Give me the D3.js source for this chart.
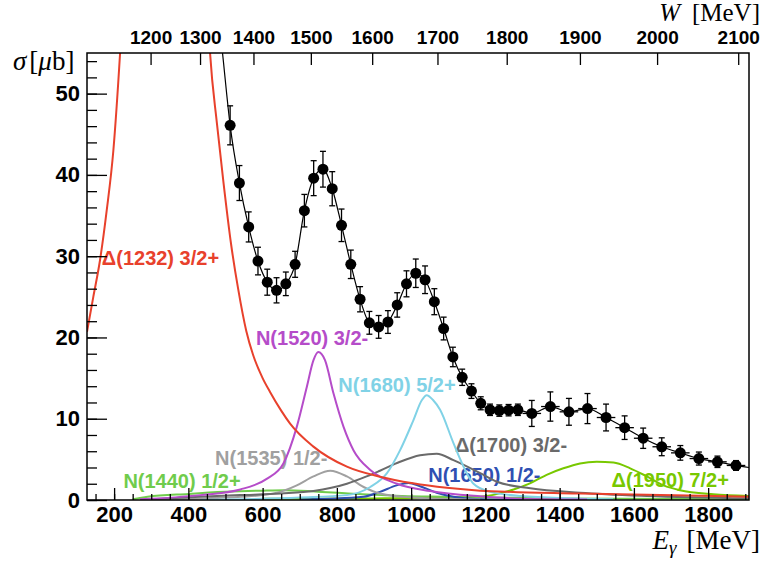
<!DOCTYPE html>
<html>
<head>
<meta charset="utf-8">
<script src="https://cdn.jsdelivr.net/npm/d3@7"></script>
<style>
body { margin: 0; background: #fff; }
svg { display: block; }
</style>
</head>
<body>
<svg></svg>
<script>
// measured cross section (photon energy, sigma, stat error, half bin width)
const dataE = [512.5, 537.5, 562.5, 587.5, 612.5, 637.5, 662.5, 687.5, 712.5, 737.5, 762.5, 787.5, 812.5, 837.5, 862.5, 887.5, 912.5, 937.5, 962.5, 987.5, 1012.5, 1037.5, 1062.5, 1087.5, 1112.5, 1137.5, 1162.5, 1187.5, 1212.5, 1237.5, 1262.5, 1287.5, 1325, 1375, 1425, 1475, 1525, 1575, 1625, 1675, 1725, 1775, 1825, 1875]
const dataS = [46.1, 39.0, 33.6, 29.4, 26.8, 25.8, 26.6, 29.0, 35.6, 39.6, 40.7, 38.3, 33.8, 29.0, 24.7, 21.8, 21.3, 21.9, 24.0, 26.6, 27.9, 27.1, 24.4, 21.1, 17.6, 15.1, 13.4, 11.9, 11.1, 11.0, 11.05, 11.1, 10.65, 11.5, 10.85, 11.25, 10.15, 8.9, 7.6, 6.55, 5.8, 5.1, 4.7, 4.25]
const dataErr = [2.4, 2.15, 1.85, 1.7, 1.6, 1.55, 1.45, 1.6, 2.0, 2.15, 2.2, 2.1, 2.0, 1.75, 1.55, 1.4, 1.4, 1.4, 1.5, 1.6, 1.75, 1.7, 1.6, 1.4, 1.2, 1.0, 0.9, 0.8, 0.7, 0.7, 0.7, 0.7, 1.6, 1.8, 1.65, 1.85, 1.65, 1.45, 1.25, 1.1, 0.9, 0.8, 0.7, 0.6]
const dataBin = [12.5, 12.5, 12.5, 12.5, 12.5, 12.5, 12.5, 12.5, 12.5, 12.5, 12.5, 12.5, 12.5, 12.5, 12.5, 12.5, 12.5, 12.5, 12.5, 12.5, 12.5, 12.5, 12.5, 12.5, 12.5, 12.5, 12.5, 12.5, 12.5, 12.5, 12.5, 12.5, 25, 25, 25, 25, 25, 25, 25, 25, 25, 25, 25, 25]

// total fit: runs in from above the frame, through the points, out to the right edge
const fitHeadE = [478, 492]
const fitHeadS = [61, 55]
const fitTailE = [1910]
const fitTailS = [4.0]

// resonance contributions
const d1232E = [127, 144, 162, 180, 198, 216, 232, 444, 458.6, 477, 494, 515, 534, 556, 574, 600, 620, 650, 674, 736, 827, 916, 1005, 1096, 1186, 1275, 1455, 1635, 1910]
const d1232S = [20.7, 25.0, 29.5, 35.6, 43.0, 54.9, 68, 68, 54.9, 46.3, 39.3, 31.5, 26.0, 20.8, 17.9, 15.0, 13.3, 11.0, 9.4, 6.6, 4.1, 2.86, 2.05, 1.5, 1.15, 0.98, 0.8, 0.65, 0.4]

const n1520E = [270, 432, 540, 611, 656, 692, 719, 737, 750, 768, 791, 818, 845, 890, 962, 1051, 1186, 1275, 1474]
const n1520S = [0.1, 0.6, 1.3, 2.6, 4.5, 9.0, 13.9, 17.2, 18.2, 17.2, 13.1, 9.0, 6.1, 3.7, 2.0, 1.1, 0.45, 0.2, 0.05]

const n1680E = [432, 701, 827, 890, 935, 970, 1006, 1029, 1042, 1059, 1078, 1114, 1150, 1168, 1213, 1294, 1544]
const n1680S = [0.0, 0.3, 0.6, 1.6, 3.3, 6.1, 9.8, 12.3, 12.9, 12.3, 11.1, 7.0, 3.3, 2.0, 1.0, 0.5, 0.1]

const d1700E = [300, 432, 540, 650, 737, 827, 880, 916, 970, 1024, 1069, 1114, 1186, 1231, 1321, 1455, 1635, 1910]
const d1700S = [0.1, 0.4, 0.6, 0.8, 1.1, 2.0, 2.9, 3.6, 4.7, 5.5, 5.7, 4.9, 3.3, 2.25, 1.44, 0.9, 0.5, 0.2]

const n1535E = [300, 500, 600, 647, 692, 737, 782, 827, 872, 916, 1006, 1186]
const n1535S = [0.05, 0.3, 0.6, 1.0, 1.8, 2.9, 3.6, 2.9, 1.6, 0.8, 0.3, 0.05]

const n1650E = [700, 872, 916, 961, 993, 1024, 1069, 1114, 1186, 1300]
const n1650S = [0.05, 0.4, 1.0, 1.8, 2.1, 1.7, 0.9, 0.4, 0.1, 0.0]

const n1440E = [250, 290, 400, 500, 600, 660, 740, 830, 920, 1050, 1190, 1400, 1910]
const n1440S = [0.1, 0.4, 0.75, 1.0, 1.15, 1.2, 1.05, 0.8, 0.6, 0.42, 0.3, 0.2, 0.1]

const d1950E = [600, 900, 1100, 1186, 1276, 1320, 1365, 1410, 1455, 1500, 1545, 1590, 1635, 1680, 1724, 1814, 1910]
const d1950S = [0.15, 0.2, 0.3, 0.4, 1.3, 2.05, 3.1, 3.9, 4.5, 4.7, 4.6, 3.9, 2.9, 1.8, 1.2, 0.7, 0.5]

const resNames = ["\u0394(1232) 3/2+", "N(1520) 3/2-", "N(1680) 5/2+", "\u0394(1700) 3/2-", "N(1535) 1/2-", "N(1650) 1/2-", "N(1440) 1/2+", "\u0394(1950) 7/2+"]

// tick labels
const eTicks = [200, 400, 600, 800, 1000, 1200, 1400, 1600, 1800]
const wTicks = [1200, 1300, 1400, 1500, 1600, 1700, 1800, 1900, 2000, 2100]
const sTicks = [0, 10, 20, 30, 40, 50]

const w = 768
const h = 570
const padL = 87, padR = 749, padT = 53, padB = 500
const mp = 938.27
const eDomain = [127, 1910]

let svg = d3.select('svg').attr("width", w).attr("height", h)

let xScale = d3.scaleLinear().domain(eDomain).range([padL, padR])
let yScale = d3.scaleLinear().domain([0, 55]).range([padB, padT])
// W^2 = mp^2 + 2 mp E, so E is linear in W^2
let wScale = d3.scalePow().exponent(2)
  .domain(eDomain.map(e => Math.sqrt(mp * mp + 2 * mp * e)))
  .range([padL, padR])

let curves = [
  {name: resNames[0], E: d1232E, S: d1232S, color: "#e8412c", lx: 167, ly: 28.9},
  {name: resNames[1], E: n1520E, S: n1520S, color: "#b54cc9", lx: 582, ly: 19.07},
  {name: resNames[2], E: n1680E, S: n1680S, color: "#80d2e6", lx: 804, ly: 13.33},
  {name: resNames[3], E: d1700E, S: d1700S, color: "#6a6a6a", lx: 1118, ly: 5.94},
  {name: resNames[4], E: n1535E, S: n1535S, color: "#a0a0a0", lx: 472, ly: 4.31},
  {name: resNames[5], E: n1650E, S: n1650S, color: "#2f4fb2", lx: 1046, ly: 2.25},
  {name: resNames[6], E: n1440E, S: n1440S, color: "#70cc4c", lx: 225, ly: 1.44},
  {name: resNames[7], E: d1950E, S: d1950S, color: "#78c800", lx: 1540, ly: 1.64}
]

svg.append("defs").append("clipPath").attr("id", "plot")
  .append("rect")
  .attr("x", padL).attr("y", padT)
  .attr("width", padR - padL).attr("height", padB - padT)

let line = d3.line()
  .x(d => xScale(d[0]))
  .y(d => yScale(d[1]))
  .curve(d3.curveMonotoneX)

let drawLabels = () => {
  svg.append("g").selectAll("text")
    .data(curves)
    .enter()
    .append("text")
    .attr("x", d => xScale(d.lx))
    .attr("y", d => yScale(d.ly))
    .attr("fill", d => d.color)
    .style("font-family", "'Liberation Sans', Arial, sans-serif")
    .style("font-weight", "bold")
    .style("font-size", "20px")
    .text(d => d.name)
}

let drawCurves = () => {
  let g = svg.append("g").attr("clip-path", "url(#plot)")
  g.selectAll("path")
    .data(curves.slice().reverse())
    .enter()
    .append("path")
    .attr("d", d => line(d.E.map((e, i) => [e, d.S[i]])))
    .attr("fill", "none")
    .attr("stroke", d => d.color)
    .attr("stroke-width", 2)
}

let drawData = () => {
  let g = svg.append("g").attr("clip-path", "url(#plot)")
  let fitE = fitHeadE.concat(dataE, fitTailE)
  let fitS = fitHeadS.concat(dataS, fitTailS)
  g.append("path")
    .attr("d", line(fitE.map((e, i) => [e, fitS[i]])))
    .attr("fill", "none")
    .attr("stroke", "#000")
    .attr("stroke-width", 1.2)

  let pts = dataE.map((e, i) => ({e: e, s: dataS[i], err: dataErr[i], bin: dataBin[i]}))
  let p = g.selectAll("g.pt").data(pts).enter().append("g").attr("class", "pt")
  p.append("line")
    .attr("x1", d => xScale(d.e)).attr("x2", d => xScale(d.e))
    .attr("y1", d => yScale(d.s - d.err)).attr("y2", d => yScale(d.s + d.err))
  p.append("line")
    .attr("x1", d => xScale(d.e) - 3).attr("x2", d => xScale(d.e) + 3)
    .attr("y1", d => yScale(d.s + d.err)).attr("y2", d => yScale(d.s + d.err))
  p.append("line")
    .attr("x1", d => xScale(d.e) - 3).attr("x2", d => xScale(d.e) + 3)
    .attr("y1", d => yScale(d.s - d.err)).attr("y2", d => yScale(d.s - d.err))
  p.append("line")
    .attr("x1", d => xScale(d.e - d.bin)).attr("x2", d => xScale(d.e + d.bin))
    .attr("y1", d => yScale(d.s)).attr("y2", d => yScale(d.s))
  p.selectAll("line").attr("stroke", "#000").attr("stroke-width", 1.3)
  p.append("circle")
    .attr("cx", d => xScale(d.e))
    .attr("cy", d => yScale(d.s))
    .attr("r", 5.5)
    .attr("fill", "#000")
}

let styleAxis = (g, size) => {
  g.select(".domain").remove()
  g.selectAll("line").attr("stroke", "#000").attr("stroke-width", 1.3)
  g.selectAll("text")
    .attr("fill", "#000")
    .style("font-family", "'Liberation Sans', Arial, sans-serif")
    .style("font-weight", "bold")
    .style("font-size", size)
}

let generateAxes = () => {
  let minorE = d3.range(150, 1901, 50)
  let xMinor = svg.append("g").attr("transform", "translate(0," + padB + ")")
    .call(d3.axisBottom(xScale).tickValues(minorE).tickSizeInner(-6).tickSizeOuter(0).tickFormat(""))
  styleAxis(xMinor, "10px")

  let xAxis = svg.append("g").attr("id", "x-axis").attr("transform", "translate(0," + padB + ")")
    .call(d3.axisBottom(xScale).tickValues(eTicks).tickSizeInner(-12).tickSizeOuter(0).tickPadding(6).tickFormat(d3.format("d")))
  styleAxis(xAxis, "22px")

  let minorS = d3.range(0, 55.1, 2)
  let yMinor = svg.append("g").attr("transform", "translate(" + padL + ",0)")
    .call(d3.axisLeft(yScale).tickValues(minorS).tickSizeInner(-10).tickSizeOuter(0).tickFormat(""))
  styleAxis(yMinor, "10px")

  let yAxis = svg.append("g").attr("id", "y-axis").attr("transform", "translate(" + padL + ",0)")
    .call(d3.axisLeft(yScale).tickValues(sTicks).tickSizeInner(-20).tickSizeOuter(0).tickPadding(7))
  styleAxis(yAxis, "22px")

  let wAxis = svg.append("g").attr("id", "w-axis").attr("transform", "translate(0," + padT + ")")
    .call(d3.axisTop(wScale).tickValues(wTicks).tickSizeInner(-12).tickSizeOuter(0).tickPadding(9).tickFormat(d3.format("d")))
  styleAxis(wAxis, "19px")

  svg.append("rect")
    .attr("x", padL).attr("y", padT)
    .attr("width", padR - padL).attr("height", padB - padT)
    .attr("fill", "none")
    .attr("stroke", "#000")
    .attr("stroke-width", 1.5)
}

let drawTitles = () => {
  let serif = "'Liberation Serif', 'Times New Roman', serif"
  let ty = svg.append("text").attr("x", 13).attr("y", 70)
    .style("font-family", serif).style("font-size", "27px")
  ty.append("tspan").style("font-style", "italic").text("\u03c3")
  ty.append("tspan").attr("dx", 3).text("[")
  ty.append("tspan").style("font-style", "italic").text("\u03bc")
  ty.append("tspan").text("b]")

  let tw = svg.append("text").attr("x", 760).attr("y", 21).attr("text-anchor", "end")
    .style("font-family", serif).style("font-size", "25px")
  tw.append("tspan").style("font-style", "italic").text("W")
  tw.append("tspan").attr("dx", 12).text("[MeV]")

  let tx = svg.append("text").attr("x", 760).attr("y", 549).attr("text-anchor", "end")
    .style("font-family", serif).style("font-size", "27px")
  tx.append("tspan").style("font-style", "italic").text("E")
  tx.append("tspan").style("font-style", "italic").style("font-size", "19px").attr("dy", 5).text("\u03b3")
  tx.append("tspan").attr("dy", -5).attr("dx", 10).text("[MeV]")
}

drawLabels()
drawCurves()
drawData()
generateAxes()
drawTitles()
</script>
</body>
</html>
